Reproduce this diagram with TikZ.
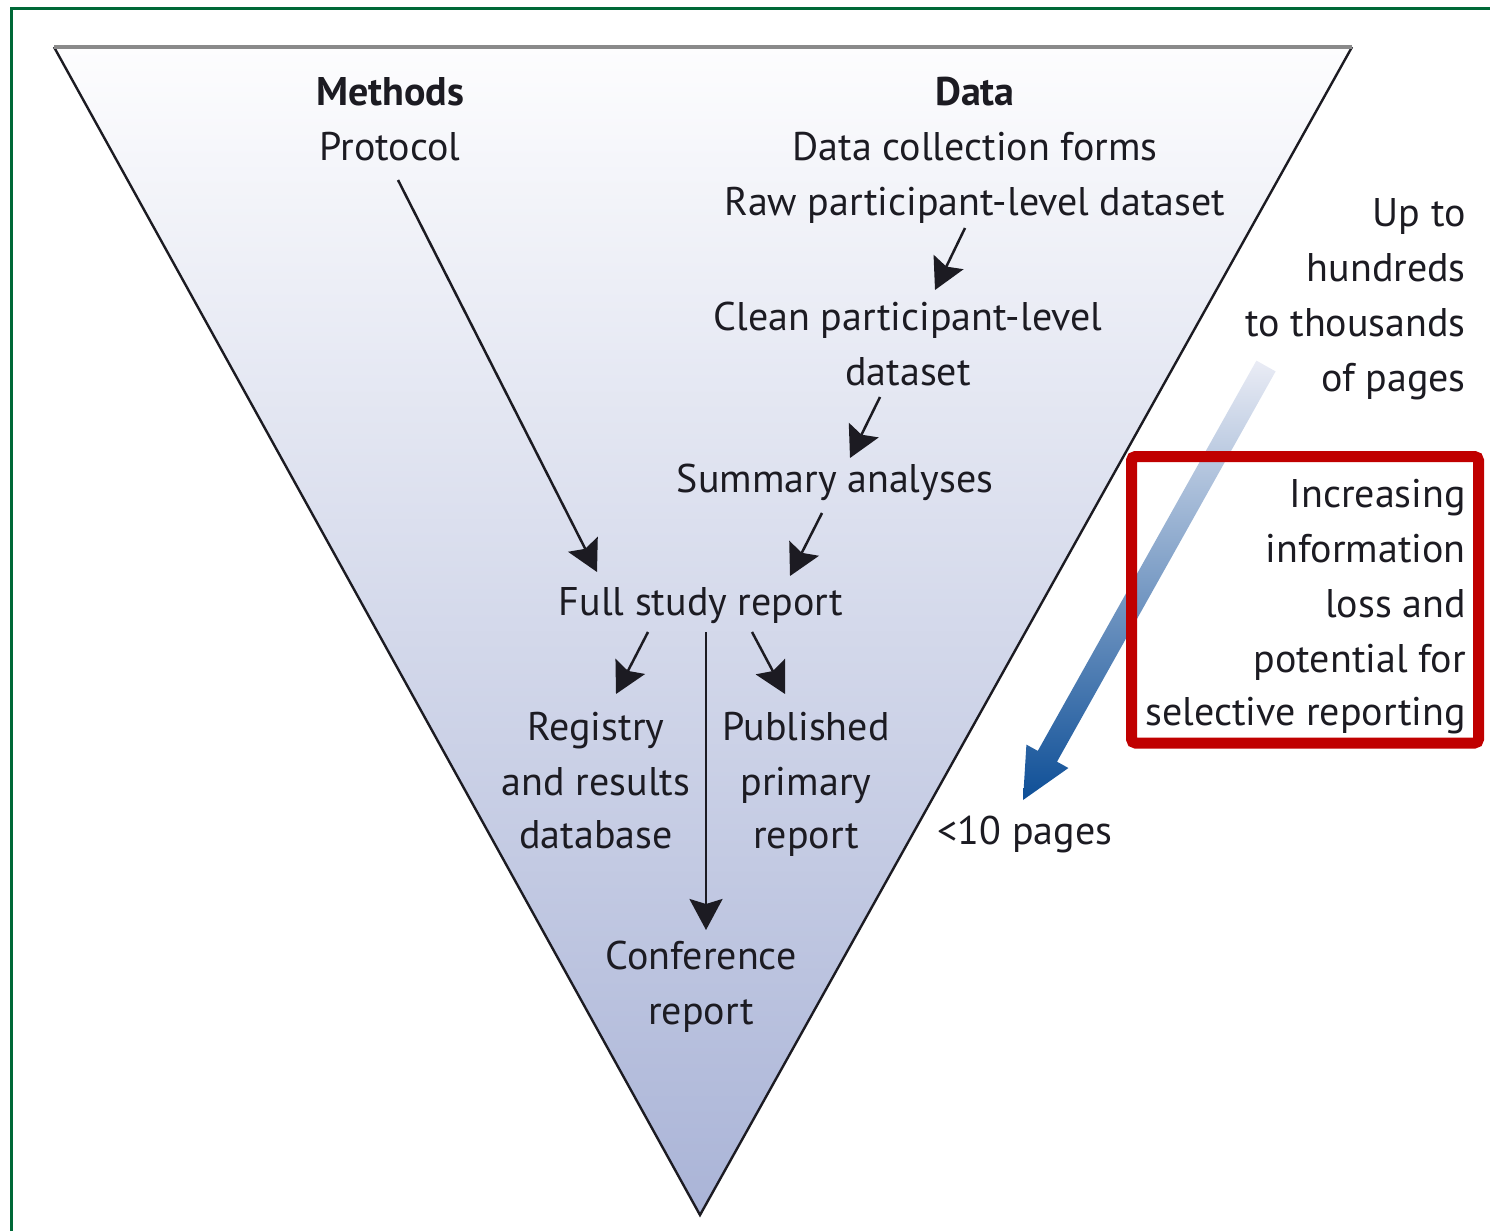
\documentclass[tikz,border=0pt]{standalone}
\usepackage{fontspec}
\setmainfont{PT Sans}
\usetikzlibrary{arrows.meta}
\definecolor{ink}{HTML}{1C1B22}
\definecolor{frameGreen}{HTML}{006837}
\definecolor{triTop}{HTML}{FDFDFE}
\definecolor{triMid}{HTML}{D6DAEB}
\definecolor{triBot}{HTML}{AAB4D7}
\definecolor{rimGray}{HTML}{8A8A8A}
\definecolor{boxRed}{HTML}{C00000}
\definecolor{flowLight}{HTML}{EAECF5}
\definecolor{flowMid}{HTML}{9AA6CF}
\definecolor{flowDark}{HTML}{0E4F97}
\tikzset{
  txt/.style={inner sep=0pt, text=ink, font=\fontsize{40}{40}\selectfont},
  ctr/.style={txt, anchor=base},
  rgt/.style={txt, anchor=base east},
  flow/.style={draw=ink, line width=2.5pt, -{Stealth[length=31pt, width=33pt, inset=5pt]}},
}
\begin{document}
\begin{tikzpicture}[x=1pt, y=-1pt]
\useasboundingbox (0,0) rectangle (1490,1231);

% page frame (left and top rules)
\draw[frameGreen, line width=3pt] (11.5,1231) -- (11.5,8.5) -- (1490,8.5);

% funnel
\coordinate (tl) at (54,47);
\coordinate (tr) at (1352,47);
\coordinate (apex) at (700,1215);
\shade[top color=triTop, middle color=triMid, bottom color=triBot] (tl) -- (tr) -- (apex) -- cycle;
\draw[ink, line width=2.4pt, line join=miter] (tl) -- (apex) -- (tr);
\draw[rimGray, line width=4pt] (tl) -- (tr);

% broad arrow: pages shrinking
\coordinate (a1) at (1256.4,360.6);
\coordinate (a2) at (1275.6,371.4);
\coordinate (a3) at (1057.0,761.7);
\coordinate (a4) at (1068.4,768.0);
\coordinate (a5) at (1023,800);
\coordinate (a6) at (1026.4,744.6);
\coordinate (a7) at (1037.8,750.9);
\shade[top color=flowLight, middle color=flowMid, bottom color=flowDark]
  (a1) -- (a2) -- (a3) -- (a4) -- (a5) -- (a6) -- (a7) -- cycle;

% red framed note
\draw[boxRed, line width=11pt, rounded corners=4pt] (1131.5,456.5) rectangle (1478.5,743);

% column heads
\node[ctr] (methods) at (390,105) {\bfseries Methods};
\node[ctr] (protocol) at (390,160) {Protocol};
\node[ctr] (data) at (975,105) {\bfseries Data};
\node[ctr] (forms) at (975,160) {Data collection forms};
\node[ctr] (raw) at (975,215) {Raw participant-level dataset};
\node[ctr] (clean1) at (908,330) {Clean participant-level};
\node[ctr] (clean2) at (908,385) {dataset};
\node[ctr] (summary) at (835,492) {Summary analyses};
\node[ctr] (fsr) at (701,615) {Full study report};
\node[ctr] (reg1) at (596,740) {Registry};
\node[ctr] (reg2) at (596,795) {and results};
\node[ctr] (reg3) at (596,848) {database};
\node[ctr] (pub1) at (806,740) {Published};
\node[ctr] (pub2) at (806,795) {primary};
\node[ctr] (pub3) at (806,848) {report};
\node[ctr] (conf1) at (701,969) {Conference};
\node[ctr] (conf2) at (701,1024) {report};

% side notes
\node[rgt] (up1) at (1466,226) {Up to};
\node[rgt] (up2) at (1466,281) {hundreds};
\node[rgt] (up3) at (1466,336) {to thousands};
\node[rgt] (up4) at (1466,391) {of pages};
\node[rgt] (inc1) at (1466,507) {Increasing};
\node[rgt] (inc2) at (1466,562) {information};
\node[rgt] (inc3) at (1466,617) {loss and};
\node[rgt] (inc4) at (1466,672) {potential for};
\node[rgt] (inc5) at (1466,725) {selective reporting};
\node[ctr] (few) at (1025,844) {<10 pages};

% connectors
\draw[flow] ([xshift=-10pt, yshift=-13pt]raw.base) -- ([xshift=27pt, yshift=40pt]clean1.base);
\draw[flow] ([xshift=-28pt, yshift=-12pt]clean2.base) -- ([xshift=15pt, yshift=34pt]summary.base);
\draw[flow] ([xshift=-13pt, yshift=-21pt]summary.base) -- ([xshift=89pt, yshift=39pt]fsr.base);
\draw[flow] ([xshift=8pt, yshift=-20pt]protocol.base) -- ([xshift=-104pt, yshift=43pt]fsr.base);
\draw[flow] ([xshift=-53pt, yshift=-17pt]fsr.base) -- ([xshift=20pt, yshift=46pt]reg1.base);
\draw[flow] ([xshift=51pt, yshift=-17pt]fsr.base) -- ([xshift=-21pt, yshift=46pt]pub1.base);
\draw[flow] ([xshift=5pt, yshift=-17pt]fsr.base) -- ([xshift=5pt, yshift=39pt]conf1.base);
\end{tikzpicture}
\end{document}
